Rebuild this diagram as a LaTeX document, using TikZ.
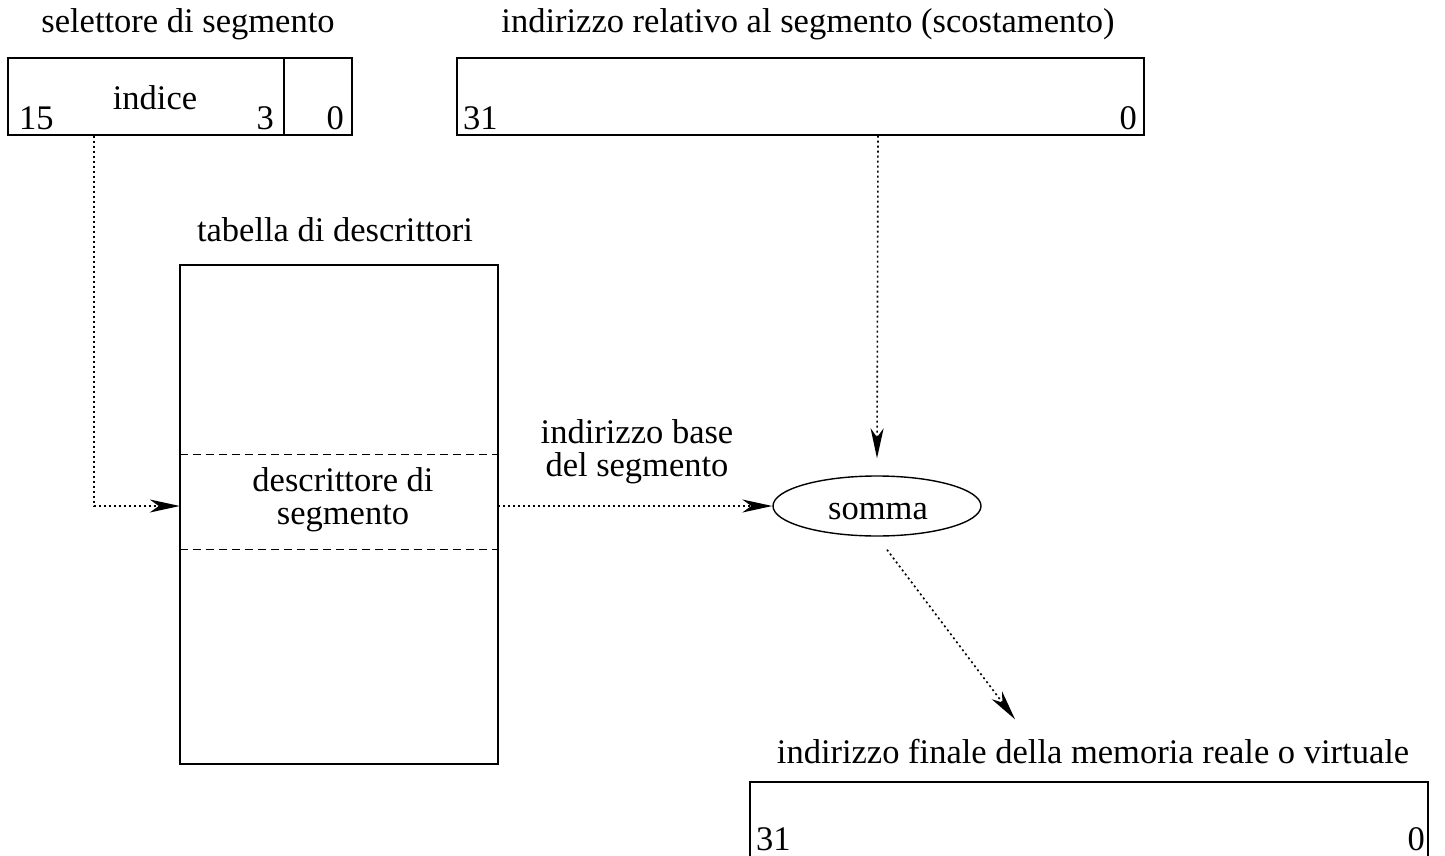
\documentclass[tikz,border=0pt]{standalone}
\usepackage{fontspec}
\setmainfont{Liberation Serif}
\usetikzlibrary{arrows.meta,shapes.geometric}
\begin{document}
\begin{tikzpicture}[x=1pt,y=-1pt,
  font=\fontsize{34.5}{33}\selectfont,
  box/.style={draw,line width=1.4pt,rectangle,inner sep=0pt},
  lbl/.style={inner sep=0pt,anchor=base},
  two/.style={inner sep=0pt,align=center,anchor=base},
  conn/.style={line width=1.6pt,dash pattern=on 2pt off 3pt,
    -{Stealth[length=30pt,width=13pt,inset=9pt]}},
  dsh/.style={line width=1.3pt,dash pattern=on 8pt off 5pt}]
\clip (0,0) rectangle (1445,856);
% selector
\node[box,minimum width=344pt,minimum height=77pt] (sel) at (180,96.5) {};
\draw[line width=1.4pt] (284,58) -- (284,135);
\node[lbl] (selt) at (188,33) {selettore di segmento};
\node[lbl] (ind) at (155,110) {indice};
\node[lbl,anchor=base west] (s15) at (19,130) {15};
\node[lbl,anchor=base east] (s3) at (274,130) {3};
\node[lbl,anchor=base east] (s0) at (344,130) {0};
% offset
\node[box,minimum width=687pt,minimum height=77pt] (off) at (800.5,96.5) {};
\node[lbl] (offt) at (808,33) {indirizzo relativo al segmento (scostamento)};
\node[lbl,anchor=base west] (o31) at (463,130) {31};
\node[lbl,anchor=base east] (o0) at (1137,130) {0};
% table
\node[box,minimum width=318pt,minimum height=499pt] (tab) at (339,514.5) {};
\node[lbl] (tabt) at (335,241) {tabella di descrittori};
\node[inner sep=0pt,minimum width=318pt,minimum height=94pt] (desc) at (339,502) {};
\draw[dsh] (desc.north west) -- (desc.north east);
\draw[dsh] (desc.south west) -- (desc.south east);
\node[two] (dt) at (343,524) {descrittore di\\segmento};
% somma
\node[draw,ellipse,line width=1.4pt,inner sep=0pt,minimum width=208pt,minimum height=60pt] (som) at (877,506) {};
\node[lbl] (somt) at (878,519) {somma};
\node[two] (bt) at (637,476) {indirizzo base\\del segmento};
% final
\node[box,minimum width=678pt,minimum height=120pt] (fin) at (1089,842) {};
\node[lbl] (fint) at (1093,763) {indirizzo finale della memoria reale o virtuale};
\node[lbl,anchor=base west] (f31) at (756,850) {31};
\node[lbl,anchor=base east] (f0) at (1425,850) {0};
% connectors
\draw[conn] ([xshift=-86pt]sel.south) |- ([yshift=-4pt]desc.west);
\draw[conn] ([yshift=-4pt]desc.east) -- (som.west);
\draw[conn] ([xshift=77.5pt]off.south) -- ([yshift=17pt]som.north);
\draw[conn] ([shift={(10,13)}]som.south) -- ([shift={(-74,-62)}]fin.north);
\end{tikzpicture}
\end{document}
